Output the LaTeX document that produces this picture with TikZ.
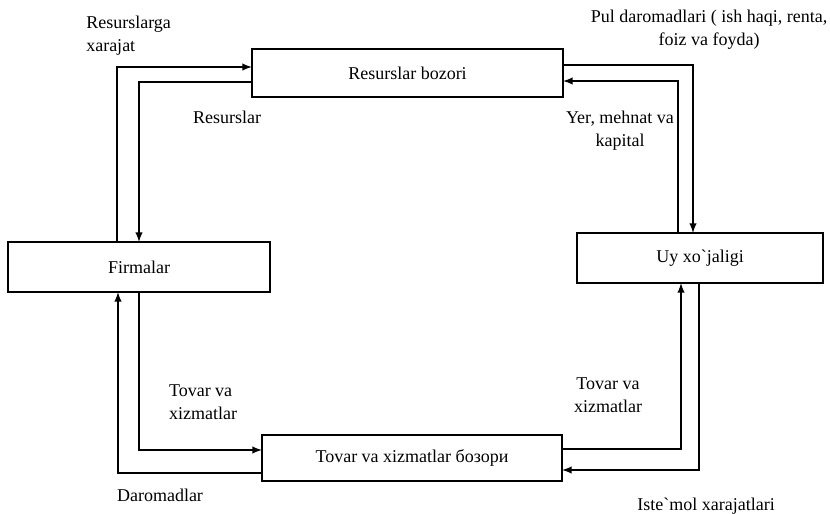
\documentclass[tikz,border=0pt]{standalone}
\usepackage{fontspec}
\setmainfont{Liberation Serif}
\usepackage{tikz}

\begin{document}
\begin{tikzpicture}[x=0.75pt,y=-0.75pt,
        box/.style={draw,line width=1.4pt,inner sep=0pt,outer sep=0pt,font=\fontsize{13.5}{17.5}\selectfont},
        lbl/.style={inner sep=0pt,font=\fontsize{13.5}{17.5}\selectfont},
        flow/.style={-latex,line width=1.5pt}]
        \useasboundingbox (0,0) rectangle (830,513);
        \node[box,minimum width=233.25pt,minimum height=36pt] (res) at (407.5,73) {Resurslar bozori};
        \node[box,minimum width=196.5pt,minimum height=37.5pt] (firm) at (139,267) {Firmalar};
        \node[box,minimum width=184.5pt,minimum height=37.5pt] (uy) at (700,258) {Uy xo\textasciigrave jaligi};
        \node[box,minimum width=225pt,minimum height=34.5pt] (tov) at (412,458) {Tovar va xizmatlar бозори};

        \coordinate (a1) at (117,67);
        \coordinate (a2) at (139,82);
        \coordinate (a3) at (693,65);
        \coordinate (a4) at (678,81);
        \coordinate (a5) at (699,470);
        \coordinate (a6) at (681,449);
        \coordinate (a7) at (139,450);
        \coordinate (a8) at (118,473);

        \draw[flow] (firm.north -| a1) |- (res.west |- a1);
        \draw[flow] (res.west |- a2) -| (firm.north -| a2);
        \draw[flow] (res.east |- a3) -| (uy.north -| a3);
        \draw[flow] (uy.north -| a4) |- (res.east |- a4);
        \draw[flow] (uy.south -| a5) |- (tov.east |- a5);
        \draw[flow] (tov.east |- a6) -| (uy.south -| a6);
        \draw[flow] (firm.south -| a7) |- (tov.west |- a7);
        \draw[flow] (tov.west |- a8) -| (firm.south -| a8);

        \node[lbl,align=left,anchor=west] (xarajat) at (86,36) {Resurslarga\\xarajat};
        \node[lbl] (resurs) at (227,117) {Resurslar};
        \node[lbl,align=center] (pul) at (709,30) {Pul daromadlari ( ish haqi, renta,\\foiz va foyda)};
        \node[lbl,align=center] (yer) at (620,131) {Yer, mehnat va\\kapital};
        \node[lbl,align=left] (tovl) at (203,402) {Tovar va\\xizmatlar};
        \node[lbl,align=center] (tovr) at (608,395) {Tovar va\\xizmatlar};
        \node[lbl] (daromad) at (160,495) {Daromadlar};
        \node[lbl] (istemol) at (706,506) {Iste\textasciigrave mol xarajatlari};
    \end{tikzpicture}
\end{document}
